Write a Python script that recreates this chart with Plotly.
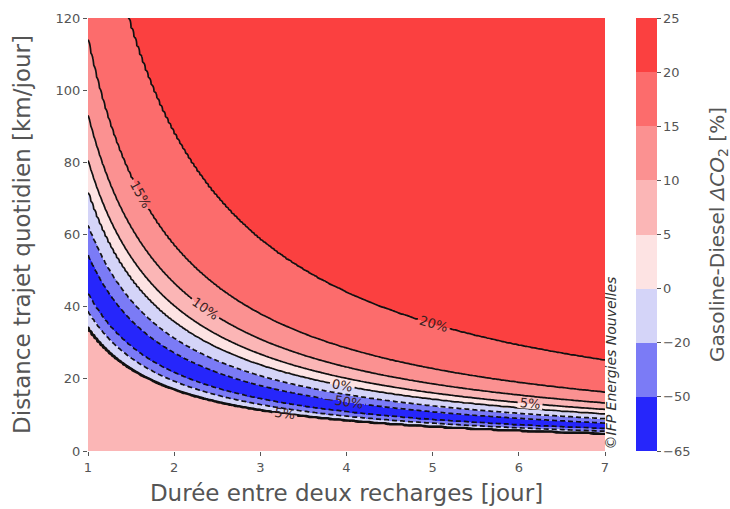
import numpy as np
import plotly.graph_objects as go

# ---- data ----
days = np.linspace(1, 7, 181)          # Durée entre deux recharges [jour]
km_per_day = np.linspace(0, 120, 361)  # Distance trajet quotidien [km/jour]

# iso-lines follow total distance between recharges (days * km/day);
# Gasoline-Diesel dCO2 [%] against that distance, read at the contour crossings
dist_knots = [0, 34.0, 34.8, 38.8, 43.5, 49.0, 54.5, 62.5, 71.5, 80.5, 93.0, 114.0, 176.0, 400.0, 840.0]
dco2_knots = [7, 7, -8, -20, -50, -62, -50, -20, 0, 5, 10, 15, 20, 23, 24]

# colour-bar levels and band colours
levels = [-65, -50, -20, 0, 5, 10, 15, 20, 25]
level_text = ["\u221265", "\u221250", "\u221220", "0", "5", "10", "15", "20", "25"]
band_colors = ["#2626fb", "#7b7bf6", "#d4d4f8", "#fde3e3", "#fbb6b6",
               "#fb9191", "#fc6c6c", "#fb4040"]

# ---- build grid ----
D = np.outer(km_per_day, days)
V = np.interp(D, dist_knots, dco2_knots)
Zi = np.interp(V, levels, list(range(len(levels)))).astype(np.float32)

i_min = int(np.argmin(dco2_knots))
d_min, v_min = dist_knots[i_min], dco2_knots[i_min]
V_up = (np.where(D < d_min, v_min, V) / 100.0).astype(np.float32)   # upper branch of curves
V_low = (np.where(D > d_min, v_min, V) / 100.0).astype(np.float32)  # lower branch of curves

nb = len(band_colors)
cscale = []
for i, c in enumerate(band_colors):
    cscale.append([i / nb, c])
    cscale.append([(i + 1) / nb, c])

txt = "#555555"
font_family = "DejaVu Sans"
label_font = dict(size=13, color="#3a2222", family=font_family)
nbsp = "\u00a0\u00a0\u00a0"

fill = go.Contour(
    x=days, y=km_per_day, z=Zi,
    autocontour=False,
    contours=dict(start=0, end=len(levels) - 1, size=1, coloring="heatmap", showlines=False),
    colorscale=cscale, zmin=0, zmax=len(levels) - 1,
    line=dict(width=0),
    hoverinfo="skip", showlegend=False,
    colorbar=dict(
        tickmode="array", tickvals=list(range(len(levels))), ticktext=[t + nbsp for t in level_text],
        thickness=21, len=1, lenmode="fraction", y=0.5, yanchor="middle",
        x=1.06, xanchor="left", xpad=0, ypad=0, outlinewidth=0,
        ticks="outside", ticklen=4, tickcolor=txt,
        tickfont=dict(size=13, color=txt, family=font_family),
        title=dict(text="Gasoline-Diesel <i>\u0394CO</i><sub>2</sub> [%]", side="right",
                   font=dict(size=20, color=txt, family=font_family)),
    ),
)


def lines(z, start, end, size, labels, width=1.7, dash="solid"):
    return go.Contour(
        x=days, y=km_per_day, z=z,
        autocontour=False,
        contours=dict(start=start, end=end, size=size, coloring="none", showlabels=labels,
                      labelformat=".0%", labelfont=label_font),
        line=dict(color="#111111", width=width, dash=dash),
        showscale=False, hoverinfo="skip", showlegend=False,
    )


traces = [
    fill,
    lines(V_up, 0.0, 0.2, 0.05, True),                     # 0 .. 20 %
    lines(V_up, -0.5, -0.5, 1, True, dash="5px,3px"),      # -50 %
    lines(V_up, -0.2, -0.2, 1, False, dash="5px,3px"),     # -20 %
    lines(V_low, -0.5, -0.2, 0.3, False, dash="5px,3px"),  # lower -50 / -20 %
    lines(V_low, 0.0, 0.0, 1, False, width=1.8),           # lower 0 %
    lines(V_low, 0.05, 0.05, 1, True, width=2.2),          # lower 5 %
]

fig = go.Figure(traces)

fig.update_layout(
    width=730, height=509,
    margin=dict(l=88, r=125, t=18, b=58, autoexpand=False),
    paper_bgcolor="white", plot_bgcolor="white",
    showlegend=False,
    font=dict(family=font_family, color=txt),
    xaxis=dict(range=[1, 7], tickvals=[1, 2, 3, 4, 5, 6, 7], showgrid=False, zeroline=False,
               ticks="outside", ticklen=4, tickcolor=txt, automargin=False,
               tickfont=dict(size=13, color=txt),
               title=dict(text="Durée entre deux recharges [jour]", font=dict(size=23, color=txt), standoff=11)),
    yaxis=dict(range=[0, 120], tickvals=[0, 20, 40, 60, 80, 100, 120], showgrid=False, zeroline=False,
               ticks="outside", ticklen=4, tickcolor=txt, automargin=False,
               tickfont=dict(size=13, color=txt),
               title=dict(text="Distance trajet quotidien [km/jour]", font=dict(size=23, color=txt), standoff=18)),
    annotations=[dict(text="<i>\u00a9IFP Energies Nouvelles</i>", xref="paper", yref="paper",
                      x=1.0116, y=0.0, xanchor="center", yanchor="bottom", textangle=-90,
                      showarrow=False, font=dict(size=14, color="#333333", family=font_family))],
)

fig.write_html("out.html")
